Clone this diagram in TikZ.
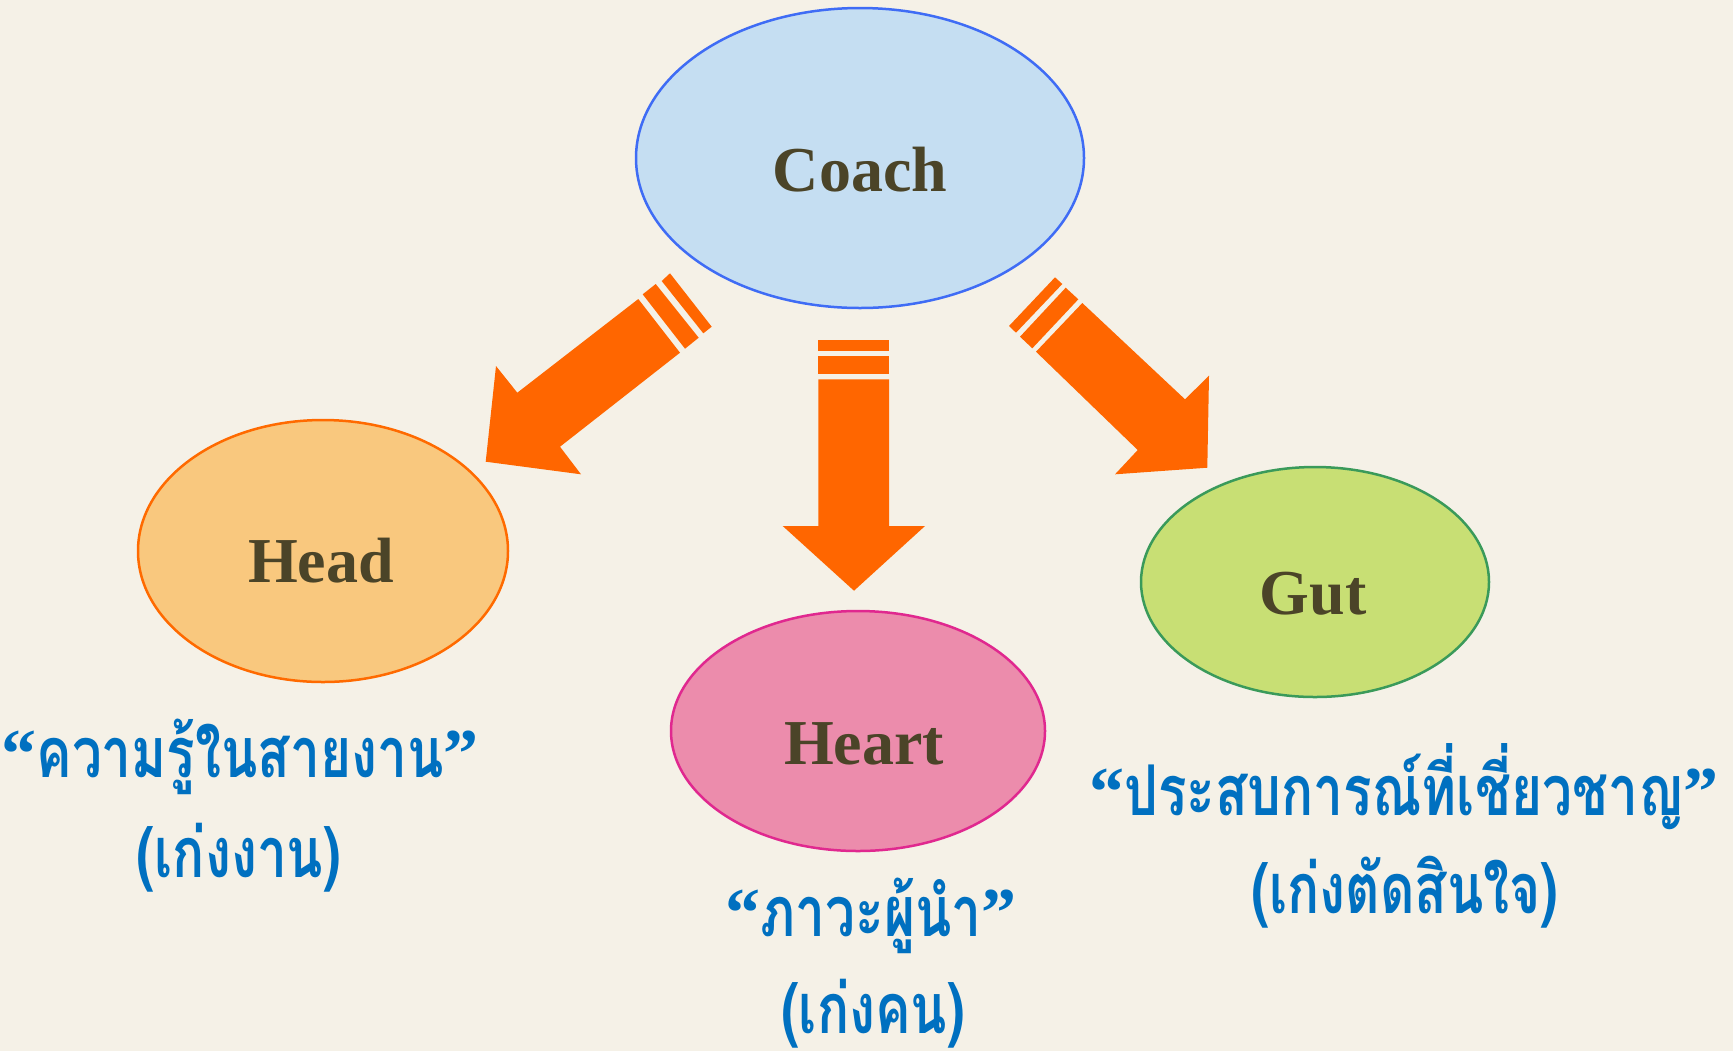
\documentclass[tikz,border=0pt]{standalone}
\usepackage{fontspec}
\setmainfont{Liberation Serif}
\newfontfamily\thaifont[Script=Thai,FakeStretch=0.76]{Loma}
\usetikzlibrary{shapes.geometric}
\definecolor{bg}{HTML}{F5F1E7}
\definecolor{coachfill}{HTML}{C5DEF2}
\definecolor{coachline}{HTML}{3F6CF5}
\definecolor{headfill}{HTML}{F9C87E}
\definecolor{headline}{HTML}{FF6A00}
\definecolor{heartfill}{HTML}{EC8CAC}
\definecolor{heartline}{HTML}{E0288F}
\definecolor{gutfill}{HTML}{C8DF74}
\definecolor{gutline}{HTML}{3A9A5A}
\definecolor{olive}{HTML}{4B4428}
\definecolor{thaiblue}{HTML}{0070C0}
\definecolor{arrowor}{HTML}{FF6600}
\newcommand{\myLQ}{{\rmfamily\bfseries “}}
\newcommand{\myRQ}{{\rmfamily\bfseries ”}}
\tikzset{
  oval/.style={ellipse, inner sep=0pt, line width=1.25pt},
  title/.style={font=\fontsize{32}{36}\selectfont\bfseries, text=olive, anchor=base, inner sep=0pt},
  thai/.style={font=\fontsize{35}{40}\selectfont\thaifont\bfseries, text=thaiblue, anchor=base, inner sep=0pt},
  blockarrow/.style={fill=arrowor, draw=none},
}
\begin{document}
\begin{tikzpicture}[x=0.5pt,y=-0.5pt]
\fill[bg] (0,0) rectangle (1733,1051);
\useasboundingbox (0,0) rectangle (1733,1051);
% ellipses
\node[oval, draw=coachline, fill=coachfill, minimum width=224pt, minimum height=150pt] (coach) at (860,158) {};
\node[oval, draw=headline, fill=headfill, minimum width=185pt, minimum height=131pt] (head) at (323,551) {};
\node[oval, draw=heartline, fill=heartfill, minimum width=187pt, minimum height=120pt] (heart) at (858,731) {};
\node[oval, draw=gutline, fill=gutfill, minimum width=174pt, minimum height=115pt] (gut) at (1315,582) {};
% titles
\node[title] (tcoach) at (860,191) {Coach};
\node[title] (thead) at (321,582) {Head};
\node[title] (theart) at (864,764) {Heart};
\node[title] (tgut) at (1313,614) {Gut};
% left arrow
\fill[blockarrow] (638.3,299) -- (680,352.7) -- (560,446.7) -- (581,474.3) -- (485.7,461.7) -- (496,366) -- (517.3,392.7) -- cycle;
\fill[blockarrow] (642.7,294.3) -- (655.7,284) -- (698.7,337.7) -- (685,348.7) -- cycle;
\fill[blockarrow] (661.7,281) -- (670,273.3) -- (711.7,326.7) -- (703.3,333.3) -- cycle;
% middle arrow
\fill[blockarrow] (818.3,379.3) -- (889,379.3) -- (889,526) -- (925,526) -- (854,590.7) -- (782.7,526) -- (818.3,526) -- cycle;
\fill[blockarrow] (818.3,356) rectangle (889,374);
\fill[blockarrow] (818.3,340) rectangle (889,350.7);
% right arrow
\fill[blockarrow] (1082.3,303) -- (1036,351.7) -- (1137.7,450) -- (1115,474.3) -- (1207.3,467.7) -- (1209,375.7) -- (1185,399.3) -- cycle;
\fill[blockarrow] (1065.7,287.7) -- (1078.3,299.3) -- (1032.3,348.3) -- (1020,336.7) -- cycle;
\fill[blockarrow] (1055,277.3) -- (1062.3,284) -- (1016,332.7) -- (1009,326) -- cycle;
% thai labels
\node[thai] (h1) at (240,777) {\myLQ ความรู้ในสายงาน\myRQ};
\node[thai] (h2) at (239,877) {(เก่งงาน)};
\node[thai] (r1) at (871,936) {\myLQ ภาวะผู้นำ\myRQ};
\node[thai] (r2) at (873,1033) {(เก่งคน)};
\node[thai] (g1) at (1404,815) {\myLQ ประสบการณ์ที่เชี่ยวชาญ\myRQ};
\node[thai] (g2) at (1405,913) {(เก่งตัดสินใจ)};
\end{tikzpicture}
\end{document}
